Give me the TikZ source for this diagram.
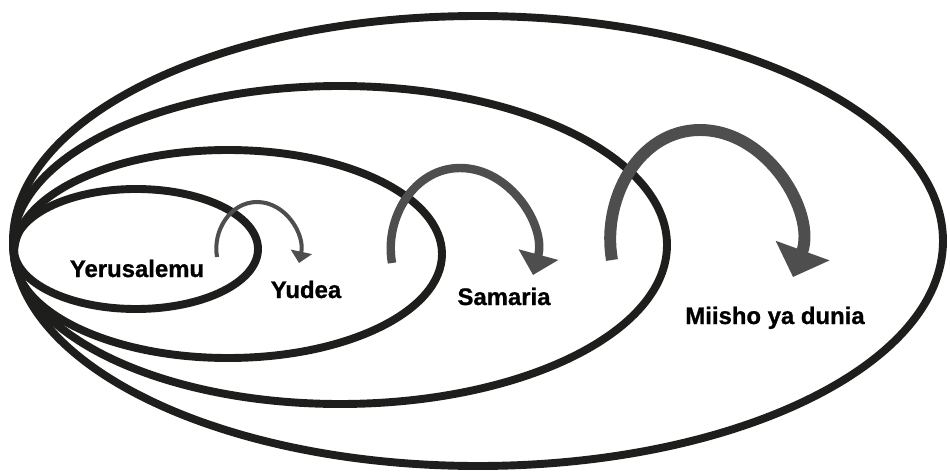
\documentclass[tikz,border=0pt]{standalone}
\usepackage{fontspec}
\setmainfont{Liberation Sans}
\newfontfamily\placefont{Liberation Sans Bold}[FakeBold=1]
\usetikzlibrary{arrows.meta}
\definecolor{ringgray}{RGB}{30,30,28}
\definecolor{hopgray}{RGB}{78,78,78}

\begin{document}
\begin{tikzpicture}[x=0.02cm, y=0.02cm,
	ring/.style={draw=ringgray, line width=4.5pt},
	hop/.style={draw=hopgray, line width=#1},
	place/.style={font=\placefont\fontsize{13.6}{16}\selectfont, anchor=base, inner sep=0pt}]
	\useasboundingbox (0,0) rectangle (950,474);
	% nested circles
	\draw[ring] (478,233) ellipse [x radius=465, y radius=225];
	\draw[ring] (340,229) ellipse [x radius=327, y radius=159];
	\draw[ring] (228,220) ellipse [x radius=214, y radius=104];
	\draw[ring] (136,225) ellipse [x radius=122, y radius=60];
	% places
	\node[place] (yerusalemu) at (137,197) {Yerusalemu};
	\node[place] (yudea) at (306,176) {Yudea};
	\node[place] (samaria) at (504,169) {Samaria};
	\node[place] (miisho) at (775,150) {Miisho ya dunia};
	% hops outward
	\coordinate (j1) at (217,217);
	\coordinate (j2) at (257,272);
	\coordinate (j3) at (299,211);
	\draw[hop=2.3pt, -{Triangle[width=12pt,length=6.5pt]}]
		(j1) to[out=100, in=180] (j2) to[out=0, in=78] (j3);
	\coordinate (s1) at (392,211);
	\coordinate (s2) at (460,306);
	\coordinate (s3) at (533,199);
	\draw[hop=4.8pt, -{Triangle[width=22.7pt,length=12pt]}]
		(s1) to[out=100, in=180] (s2) to[out=0, in=75] (s3);
	\coordinate (m1) at (612,214);
	\coordinate (m2) at (700,344);
	\coordinate (m3) at (793,197);
	\draw[hop=6.8pt, -{Triangle[width=31.7pt,length=16pt]}]
		(m1) to[out=100, in=180] (m2) to[out=0, in=70] (m3);
\end{tikzpicture}
\end{document}
